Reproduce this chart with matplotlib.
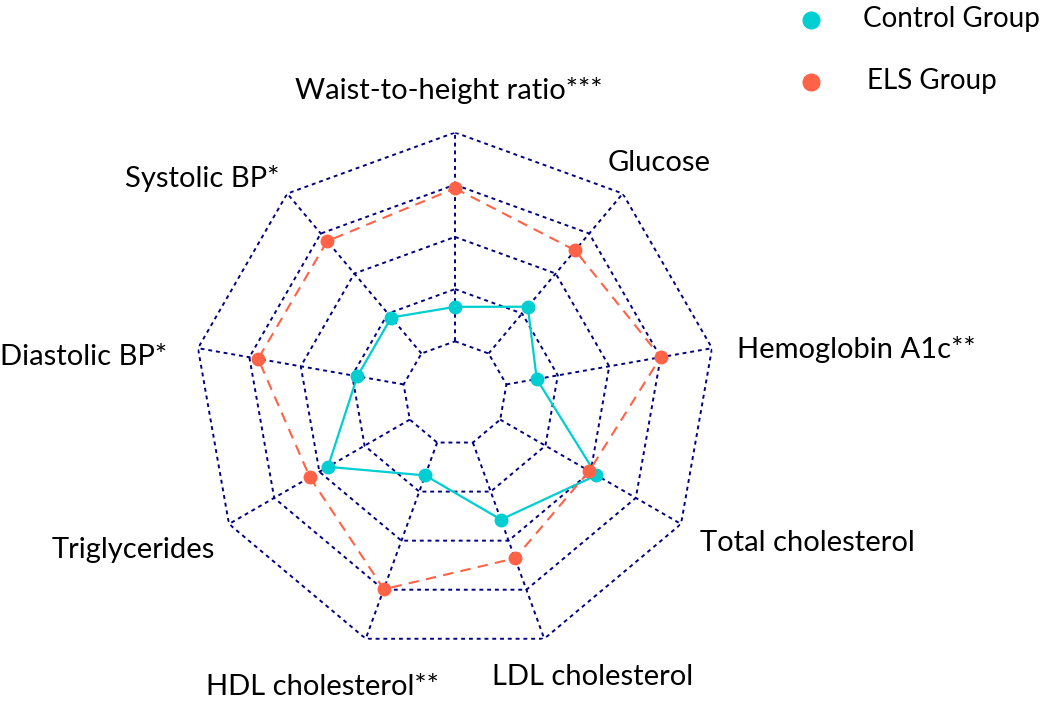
import numpy as np
import matplotlib.pyplot as plt
from matplotlib.lines import Line2D

# categories clockwise from the top
categories = ['Waist-to-height ratio***', 'Glucose', 'Hemoglobin A1c**', 'Total cholesterol',
              'LDL cholesterol', 'HDL cholesterol**', 'Triglycerides', 'Diastolic BP*', 'Systolic BP*']
control = [1.66, 2.17, 1.59, 3.13, 2.57, 1.67, 2.81, 1.90, 1.90]
els = [3.93, 3.58, 4.00, 2.97, 3.36, 3.99, 3.21, 3.83, 3.81]
ring_levels = [1, 2, 3, 4, 5]
group_names = ['Control Group', 'ELS Group']

# label anchors in pixels (x, baseline y from top, alignment)
label_pos = [(449, 99, 'center'), (659, 171, 'center'), (737, 358, 'left'), (700, 551, 'left'),
             (492, 685, 'left'), (322, 695, 'center'), (215, 558, 'right'), (167, 365, 'right'),
             (202, 187, 'center')]
# legend rows: marker x, text x, baseline y (pixels)
legend_pos = [(811, 863, 27), (811, 867, 89)]

W, H = 1050, 711
cyan = '#00CED1'
orange = '#FF6347'
navy = '#000080'
plt.rcParams['font.family'] = ['Lato', 'DejaVu Sans']

fig = plt.figure(figsize=(W / 100, H / 100), dpi=100)
cx, cy, R = 455, 393.5, 261
ax = fig.add_axes([(cx - R) / W, (H - cy - R) / H, 2 * R / W, 2 * R / H], projection='polar')
ax.set_theta_zero_location('N')
ax.set_theta_direction(-1)

n = len(categories)
theta = np.arange(n) * 2 * np.pi / n
closed = np.append(theta, theta[0])

# web grid
grid_style = dict(color=navy, lw=1.4, ls=(0, (2, 2)), zorder=1)
for lv in ring_levels:
    ax.plot(closed, [lv] * (n + 1), **grid_style)
for t in theta:
    ax.plot([t, t], [ring_levels[0], ring_levels[-1]], **grid_style)

ax.plot(closed, np.append(control, control[0]), color=cyan, lw=1.6, zorder=3)
ax.plot(theta, control, 'o', color=cyan, ms=9, zorder=4)
ax.plot(closed, np.append(els, els[0]), color=orange, lw=1.5, ls=(0, (5, 3.5)), zorder=3)
ax.plot(theta, els, 'o', color=orange, ms=9, zorder=4)

ax.set_ylim(0, 5)
ax.set_xticks([])
ax.set_yticks([])
ax.grid(False)
ax.spines['polar'].set_visible(False)
ax.patch.set_alpha(0)

for name, (x, y, ha) in zip(categories, label_pos):
    fig.text(x / W, 1 - y / H, name, ha=ha, va='baseline', fontsize=21)

# legend
for name, c, (mx, tx, by) in zip(group_names, [cyan, orange], legend_pos):
    fig.add_artist(Line2D([mx / W], [1 - (by - 7) / H], marker='o', ls='', color=c, ms=12,
                          transform=fig.transFigure))
    fig.text(tx / W, 1 - by / H, name, ha='left', va='baseline', fontsize=20)

fig.savefig('out.png', dpi=100)
